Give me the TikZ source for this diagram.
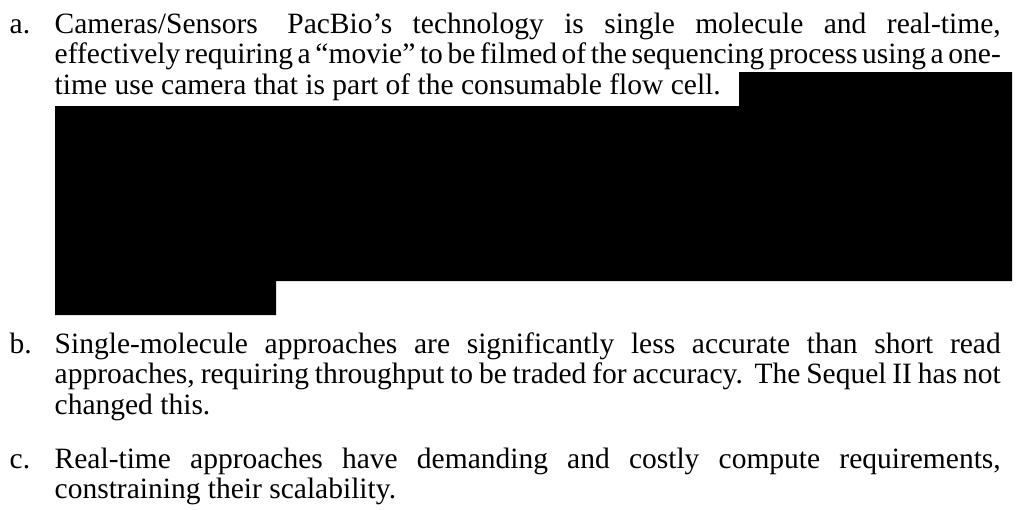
\documentclass[tikz,border=0pt]{standalone}
\usepackage{fontspec}
\setmainfont{Liberation Serif}
\usepackage{tikz}
\usetikzlibrary{positioning}

\newcommand\bodyfont{\fontsize{29.5}{30.5}\selectfont
  \spaceskip=0.25em plus 1em minus 0.1em\xspaceskip=\spaceskip
  \tolerance=10000\hyphenpenalty=10000}

\begin{document}
\begin{tikzpicture}[x=1pt, y=-1pt,
  every node/.style={inner sep=0pt, font=\bodyfont},
  tag/.style={anchor=base west},
  para/.style={anchor=base west, text width=946pt, align=justify}]
\useasboundingbox (0,0) rectangle (1027,509);
% item labels
\node[tag] (la) at (9.5,33) {a.};
\node[tag] (lb) at (9.5,353) {b.};
\node[tag] (lc) at (9.5,468) {c.};
% item texts
\node[para] (ta) at (54.5,33) {Cameras/Sensors\quad PacBio’s technology is single molecule and real-time,\linebreak effectively requiring a “movie” to be filmed of the sequencing process using a one-\linebreak time use camera that is part of the consumable flow cell.};
\node[para] (tb) at (54.5,353) {Single-molecule approaches are significantly less accurate than short read\linebreak approaches, requiring throughput to be traded for accuracy.\ \ The Sequel II has not\linebreak changed this.};
\node[para] (tc) at (54.5,468) {Real-time approaches have demanding and costly compute requirements,\linebreak constraining their scalability.};
% redacted block
\fill[black] (739,72) -- (1012,72) -- (1012,281) -- (276,281) -- (276,315)
  -- (55,315) -- (55,106) -- (739,106) -- cycle;
\end{tikzpicture}
\end{document}
